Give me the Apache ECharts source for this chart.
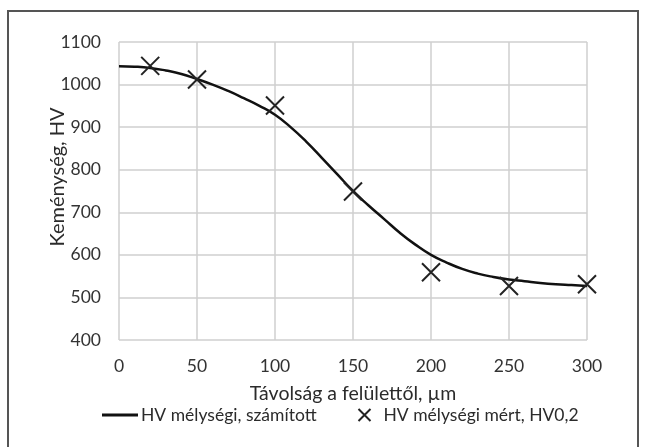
<!DOCTYPE html>
<html>
<head>
<meta charset="utf-8">
<script src="https://cdn.jsdelivr.net/npm/echarts@6/dist/echarts.min.js"></script>
<style>
html,body{margin:0;padding:0;background:#fff;}
#chart{width:645px;height:447px;}
</style>
</head>
<body>
<div id="chart"></div>
<script>
// Calculated depth hardness curve (distance µm, HV)
const curveX = [0,10,20,30,40,50,60,70,80,90,100,110,120,130,140,150,160,170,180,190,200,210,220,230,240,250,260,270,280,290,300];
const curveY = [1043,1042,1039,1033,1025,1013,1000,985,968,950,929,900,866,828,789,750,716,684,652,624,600,582,567,556,548,542,538,534,531,529,527];
// Measured points
const measX = [20,50,100,150,200,250,300];
const measY = [1044,1012,951,749,559,527,531];
const xTicks = [0,50,100,150,200,250,300];
const yTicks = [400,500,600,700,800,900,1000,1100];
const nameCurve = 'HV mélységi, számított';
const nameMeas = 'HV mélységi mért, HV0,2';

const FONT = 'Lato';
const chart = echarts.init(document.getElementById('chart'), null, {renderer:'canvas'});
const xSym = 'path://M0,0L10,10M10,0L0,10';
chart.setOption({
  backgroundColor:'#fff',
  animation:false,
  textStyle:{fontFamily:FONT},
  graphic:[{
    type:'rect', shape:{x:8,y:11,width:630,height:450},
    style:{fill:'none',stroke:'#555',lineWidth:2}, silent:true, z:-1
  }],
  grid:{left:119,right:58,top:42,bottom:107,containLabel:false},
  legend:[{
    data:[{name:nameCurve, icon:'path://M0,0H36V3H0Z'}],
    left:97, top:401, itemWidth:36, itemHeight:3, itemGap:0,
    textStyle:{fontFamily:FONT,fontSize:17.5,color:'#2b2b2b',padding:[0,0,0,-2]}
  },{
    data:[{name:nameMeas}],
    left:351, top:401, itemWidth:12, itemHeight:12, itemGap:0,
    textStyle:{fontFamily:FONT,fontSize:17.5,color:'#2b2b2b',padding:[0,0,0,8]}
  }],
  xAxis:{
    type:'value', min:xTicks[0], max:xTicks[xTicks.length-1], interval:50,
    name:'Távolság a felülettől, µm', nameLocation:'middle', nameGap:44, nameMoveOverlap:false,
    nameTextStyle:{fontFamily:FONT,fontSize:19.5,color:'#2b2b2b'},
    axisLine:{show:false}, axisTick:{show:false},
    axisLabel:{margin:17,fontFamily:FONT,fontSize:17.5,color:'#333',formatter:v=>String(v)},
    splitLine:{show:true,lineStyle:{color:'#cfcfcf',width:1.5}}
  },
  yAxis:{
    type:'value', min:yTicks[0], max:yTicks[yTicks.length-1], interval:100,
    name:'Keménység, HV', nameLocation:'middle', nameGap:51, nameRotate:90, nameMoveOverlap:false,
    nameTextStyle:{fontFamily:FONT,fontSize:20,color:'#2b2b2b',padding:[0,0,0,28]},
    axisLine:{show:false}, axisTick:{show:false},
    axisLabel:{margin:18,fontFamily:FONT,fontSize:17.5,color:'#333',formatter:v=>String(v)},
    splitLine:{show:true,lineStyle:{color:'#cfcfcf',width:1.5}}
  },
  series:[{
    name:nameCurve, type:'line', smooth:true, showSymbol:false, symbol:'none',
    data:curveX.map((x,i)=>[x,curveY[i]]),
    lineStyle:{color:'#111',width:2.5}, itemStyle:{color:'#111'}, z:3
  },{
    name:nameMeas, type:'scatter', symbol:xSym, symbolSize:18,
    data:measX.map((x,i)=>[x,measY[i]]),
    itemStyle:{color:'none',borderColor:'#222',borderWidth:2,opacity:1}, z:4
  }]
});
</script>
</body>
</html>
